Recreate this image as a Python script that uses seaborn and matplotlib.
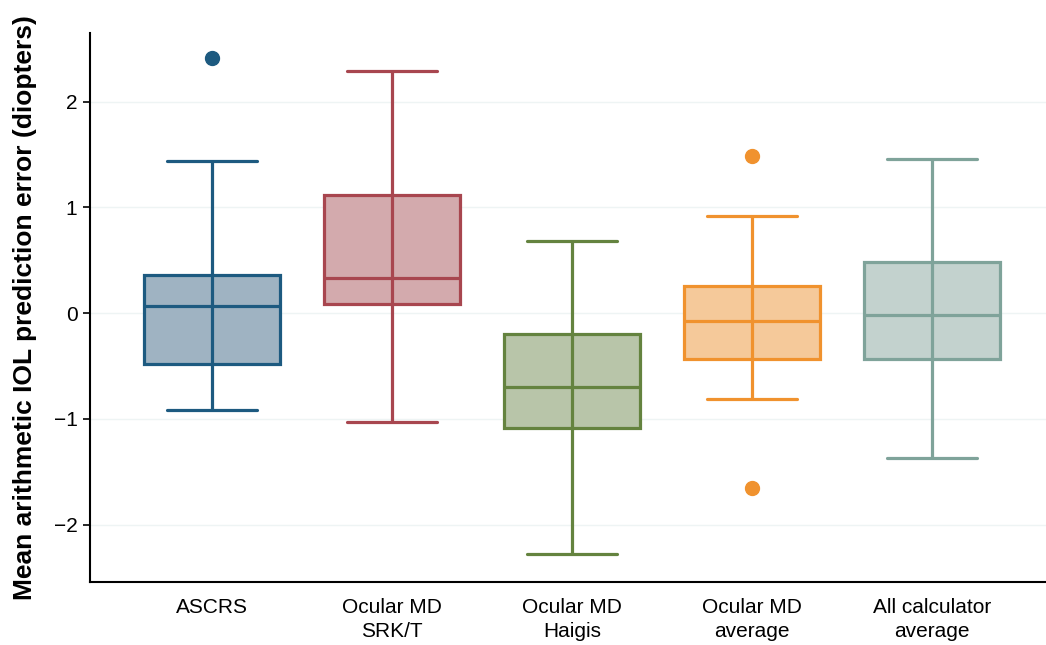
import numpy as np
import pandas as pd
import matplotlib
matplotlib.use("Agg")
import matplotlib.pyplot as plt
import seaborn as sns

categories = ["ASCRS", "Ocular MD\nSRK/T", "Ocular MD\nHaigis", "Ocular MD\naverage", "All calculator\naverage"]

# observations per group (sorted); chosen so quartiles/whiskers/outliers match the picture
ascrs = [-0.92, -0.70, -0.48, -0.20, 0.07, 0.20, 0.36, 1.44, 2.41]
srkt = [-1.03, -0.40, 0.09, 0.20, 0.33, 0.70, 1.12, 1.70, 2.29]
haigis = [-2.28, -1.50, -1.09, -0.90, -0.70, -0.45, -0.20, 0.30, 0.68]
md_average = [-1.65, -0.81, -0.43, -0.25, -0.07, 0.10, 0.26, 0.92, 1.49]
all_average = [-1.37, -0.90, -0.43, -0.20, -0.02, 0.20, 0.48, 0.95, 1.46]

edge_colors = ["#1d5a80", "#a8464f", "#64833f", "#f0922e", "#7fa39a"]
fill_colors = ["#9fb3c2", "#d3aaad", "#b8c5a9", "#f5c99a", "#c3d2ce"]

series = [ascrs, srkt, haigis, md_average, all_average]
df = pd.DataFrame({
    "group": np.repeat(categories, [len(s) for s in series]),
    "value": np.concatenate(series),
})

sns.set_theme(style="white")
plt.rcParams["font.family"] = ["Liberation Sans", "DejaVu Sans"]

fig = plt.figure(figsize=(10.46, 6.45), dpi=100)
ax = fig.add_axes([0.086, 0.098, 0.914, 0.851])

LW = 2.3
for cat, ec, fc in zip(categories, edge_colors, fill_colors):
    sub = df[df["group"] == cat]
    sns.boxplot(data=sub, x="group", y="value", order=categories, ax=ax,
                color=fc, saturation=1, linecolor=ec, linewidth=LW, width=0.756,
                fliersize=10, capwidths=0.5,
                flierprops=dict(marker="o", markerfacecolor=ec, markeredgecolor=ec))

# whisker line continuing through the box
for i, (s, ec) in enumerate(zip(series, edge_colors)):
    q1, q3 = np.percentile(s, [25, 75])
    ax.plot([i, i], [q1, q3], color=ec, lw=LW, zorder=3, solid_capstyle="butt")

for p, ec, fc in zip(ax.patches, edge_colors, fill_colors):
    p.set_edgecolor(ec)
    p.set_facecolor(fc)

ax.set_xlim(-0.678, 4.633)
ax.set_ylim(-2.54, 2.65)
ax.set_yticks([-2, -1, 0, 1, 2])
ax.set_yticklabels(["\u22122", "\u22121", "0", "1", "2"])
ax.yaxis.grid(True, color="#eef4f4", lw=1.0)
ax.set_axisbelow(True)
ax.set_xlabel("")
ax.set_ylabel("Mean arithmetic IOL prediction error (diopters)", fontsize=19,
              fontweight="bold", color="black", labelpad=12)
sns.despine(ax=ax)
for sp in ["left", "bottom"]:
    ax.spines[sp].set_color("black")
    ax.spines[sp].set_linewidth(1.5)
ax.tick_params(axis="y", left=True, length=5, width=1.2, colors="black", labelsize=15, pad=4)
ax.tick_params(axis="x", bottom=False, labelsize=15, pad=6)
for lab in ax.get_xticklabels():
    lab.set_linespacing(1.3)
    lab.set_color("black")

fig.savefig("out.png", dpi=100)
